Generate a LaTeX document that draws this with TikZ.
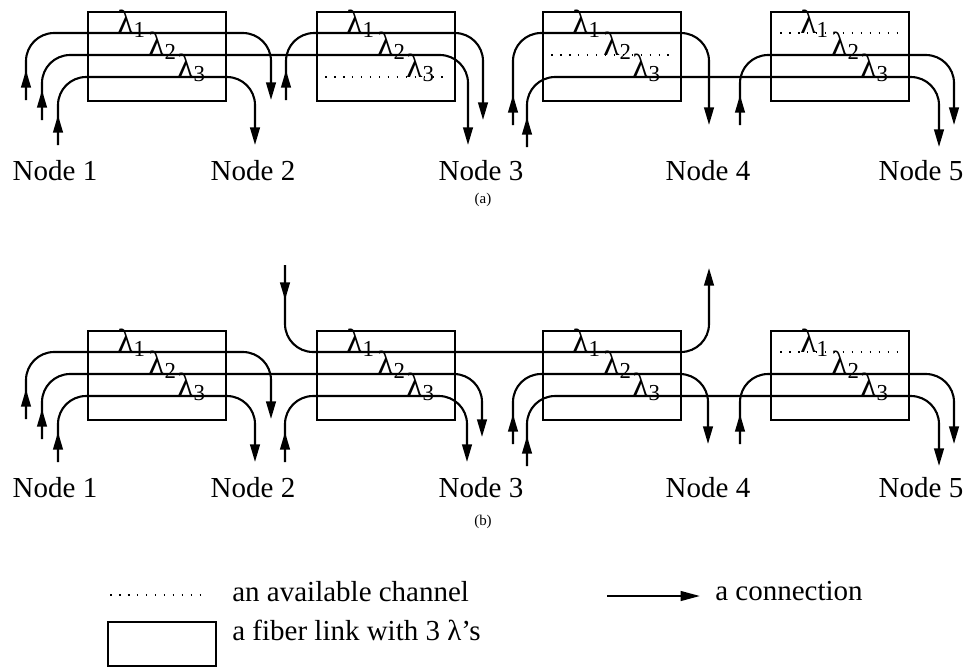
\documentclass[tikz,border=0pt]{standalone}
\usepackage{fontspec}
\setmainfont{Liberation Serif}
\usetikzlibrary{arrows.meta}

\tikzset{
  link/.style={draw,line width=1pt,minimum width=2.76cm,minimum height=1.78cm,inner sep=0pt,anchor=north west},
  lam/.style={anchor=base west,inner sep=0pt,font=\fontsize{19}{22}\selectfont},
  conn/.style={line width=1.2pt,rounded corners=16pt,-{Triangle[length=10pt,width=5.5pt]}},
  free/.style={line width=0.9pt,dash pattern=on 0.9pt off 4.2pt},
  lbl/.style={inner sep=0pt,anchor=base,font=\fontsize{16.5}{20}\selectfont},
  panelcap/.style={inner sep=0pt,anchor=base,font=\fontsize{8.5}{10}\selectfont},
}

% wavelength label with lowered index
\newcommand{\wl}[1]{λ\raisebox{-0.3ex}{\fontsize{13}{15}\selectfont #1}}
% fiber link box with its three wavelengths: name, left x, top y
\newcommand{\fiberlink}[3]{%
  \node[link] (#1) at (#2,#3) {};
  \node[lam] at (#2+30,#3+22) {\wl{1}};
  \node[lam] at (#2+61,#3+44) {\wl{2}};
  \node[lam] at (#2+90,#3+66) {\wl{3}};
}
% lightpath: start x, start y, lane y, end x, end y
\newcommand{\lightpath}[5]{%
  \draw[conn,rounded corners=0pt] (#1,#2) -- (#1,#2-30);
  \draw[conn] (#1,#2) -- (#1,#3) -- (#4,#3) -- (#4,#5);
}

\begin{document}
\begin{tikzpicture}[x=0.02cm,y=-0.02cm]
  \useasboundingbox (0,0) rectangle (966,667);

  % (a) fiber links
  \fiberlink{a1}{87}{11}
  \fiberlink{a2}{316}{11}
  \fiberlink{a3}{542}{11}
  \fiberlink{a4}{770}{11}

  % (a) available channels
  \draw[free] (325,77) -- (447,77);
  \draw[free] (551,55) -- (672,55);
  \draw[free] (780,33) -- (903,33);

  % (a) connections
  \lightpath{26}{100}{33}{271}{100}
  \lightpath{42}{120}{55}{468}{145}
  \lightpath{58}{145}{77}{255}{145}
  \lightpath{286}{100}{33}{483}{120}
  \lightpath{513}{125}{33}{709}{125}
  \lightpath{527}{147}{77}{939}{147}
  \lightpath{740}{125}{55}{954}{125}

  % (a) nodes
  \node[lbl] (an1) at (55,180) {Node 1};
  \node[lbl] (an2) at (253,180) {Node 2};
  \node[lbl] (an3) at (481,180) {Node 3};
  \node[lbl] (an4) at (708,180) {Node 4};
  \node[lbl] (an5) at (921,180) {Node 5};
  \node[panelcap] (capa) at (483,203) {(a)};

  % (b) fiber links
  \fiberlink{b1}{87}{330}
  \fiberlink{b2}{316}{330}
  \fiberlink{b3}{542}{330}
  \fiberlink{b4}{770}{330}

  % (b) available channel
  \draw[free] (780,352) -- (903,352);

  % (b) connections
  \lightpath{26}{419}{352}{271}{419}
  \lightpath{42}{439}{374}{482}{437}
  \lightpath{58}{462}{396}{255}{462}
  \lightpath{285}{462}{396}{467}{462}
  \draw[conn,rounded corners=0pt] (285,265) -- (285,300);
  \draw[conn] (285,265) -- (285,352) -- (709,352) -- (709,268);
  \lightpath{513}{444}{374}{708}{444}
  \lightpath{527}{466}{396}{939}{466}
  \lightpath{740}{444}{374}{954}{444}

  % (b) nodes
  \node[lbl] (bn1) at (55,497) {Node 1};
  \node[lbl] (bn2) at (253,497) {Node 2};
  \node[lbl] (bn3) at (481,497) {Node 3};
  \node[lbl] (bn4) at (708,497) {Node 4};
  \node[lbl] (bn5) at (921,497) {Node 5};
  \node[panelcap] (capb) at (483,525) {(b)};

  % legend
  \draw[free] (110,595) -- (208,595);
  \node[lbl,anchor=base west] (leg1) at (232,601) {an available channel};
  \draw[line width=1pt] (108,622) rectangle (216,666);
  \node[lbl,anchor=base west] (leg2) at (232,640) {a fiber link with 3 λ’s};
  \draw[line width=1.2pt,-{Triangle[length=11pt,width=5.5pt]}] (607,596) -- (700,596);
  \node[lbl,anchor=base west] (leg3) at (715,600) {a connection};
\end{tikzpicture}
\end{document}
